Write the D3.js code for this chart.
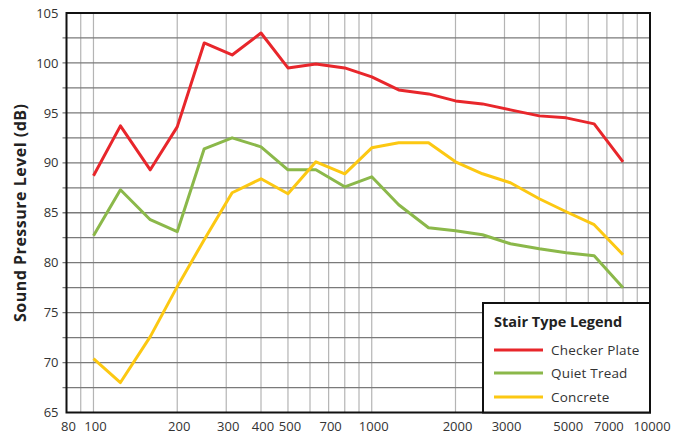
<!DOCTYPE html>
<html><head><meta charset="utf-8">
<script src="https://cdn.jsdelivr.net/npm/d3@7"></script>
<style>body{margin:0;background:#fff}svg{display:block}</style>
</head><body><svg id="c" width="684" height="437"></svg>
<script>
const freqs = [100,125,160,200,250,315,400,500,630,800,1000,1250,1600,2000,2500,3150,4000,5000,6300,8000];
const checkerPlate = [88.7,93.7,89.3,93.6,102.0,100.8,103.0,99.5,99.9,99.5,98.6,97.3,96.9,96.2,95.9,95.3,94.7,94.5,93.9,90.1];
const quietTread = [82.7,87.3,84.3,83.1,91.4,92.5,91.6,89.3,89.3,87.6,88.6,85.8,83.5,83.2,82.8,81.9,81.4,81.0,80.7,77.5];
const concrete = [70.4,68.0,72.6,77.6,82.3,87.0,88.4,86.9,90.1,88.9,91.5,92.0,92.0,90.1,88.9,88.0,86.4,85.1,83.8,80.8];
const seriesNames = ["Checker Plate","Quiet Tread","Concrete"];
const seriesColors = ["#e8262b","#8bb84a","#fcc812"];
const xTickLabels = [80,100,200,300,400,500,700,1000,2000,3000,5000,7000,10000];
const xGrid = [90,100,200,300,400,500,600,700,800,900,1000,2000,3000,4000,5000,6000,7000,8000,9000];
const yTicks = [65,70,75,80,85,90,95,100,105];
const yGrid = [67.5,70,72.5,75,77.5,80,82.5,85,87.5,90,92.5,95,97.5,100,102.5];

const svg = d3.select("#c");
const L=66.5, R=650, T=13, B=412.5;
const x = d3.scaleLog().domain([80,10000]).range([L,R]);
const y = d3.scaleLinear().domain([65,105]).range([B,T]);
const font = "'Open Sans', sans-serif";

const g = svg.append("g");
g.selectAll("line.vg").data(xGrid).join("line")
  .attr("x1",d=>x(d)).attr("x2",d=>x(d)).attr("y1",T).attr("y2",B)
  .attr("stroke","#b4b4b4").attr("stroke-width",1.2);
g.selectAll("line.hg").data(yGrid).join("line")
  .attr("x1",L-4).attr("x2",R).attr("y1",d=>y(d)).attr("y2",d=>y(d))
  .attr("stroke","#7a7a7a").attr("stroke-width",1.3);

// frame
g.append("rect").attr("x",L).attr("y",T).attr("width",R-L).attr("height",B-T)
  .attr("fill","none").attr("stroke","#111").attr("stroke-width",2);

// axes labels
const xAxis = d3.axisBottom(x).tickValues(xTickLabels).tickFormat(d3.format("d")).tickSize(0).tickPadding(9);
const ax = svg.append("g").attr("transform",`translate(1.5,${B})`).call(xAxis);
ax.select(".domain").remove();
ax.selectAll("text").attr("font-family",font).attr("font-size",13).attr("fill","#333");

const yAxis = d3.axisLeft(y).tickValues(yTicks).tickSize(0).tickPadding(8);
const ay = svg.append("g").attr("transform",`translate(${L},0)`).call(yAxis);
ay.select(".domain").remove();
ay.selectAll("text").attr("font-family",font).attr("font-size",13).attr("fill","#333");

svg.append("text").attr("transform",`translate(26,${(T+B)/2}) rotate(-90)`)
  .attr("text-anchor","middle").attr("font-family",font).attr("font-weight","bold")
  .attr("font-size",16).attr("letter-spacing",0.5).attr("fill","#222").text("Sound Pressure Level (dB)");

// lines
const data = [checkerPlate, quietTread, concrete];
const line = d3.line().x((d,i)=>x(freqs[i])).y(d=>y(d));
svg.selectAll("path.s").data(data).join("path")
  .attr("d",line).attr("fill","none")
  .attr("stroke",(d,i)=>seriesColors[i]).attr("stroke-width",3).attr("stroke-linejoin","round");

// legend
const lg = svg.append("g");
lg.append("rect").attr("x",483).attr("y",303).attr("width",R-483).attr("height",B-303)
  .attr("fill","#fff").attr("stroke","#111").attr("stroke-width",2);
lg.append("text").attr("x",494).attr("y",327).attr("font-family",font).attr("font-weight","bold")
  .attr("font-size",14.5).attr("fill","#222").text("Stair Type Legend");
const ly = [350,373,397];
seriesNames.forEach((n,i)=>{
  lg.append("line").attr("x1",494).attr("x2",543).attr("y1",ly[i]).attr("y2",ly[i])
    .attr("stroke",seriesColors[i]).attr("stroke-width",3);
  lg.append("text").attr("x",551).attr("y",ly[i]+5).attr("font-family",font)
    .attr("font-size",13.5).attr("letter-spacing",0.2).attr("fill","#333").text(n);
});
</script></body></html>
